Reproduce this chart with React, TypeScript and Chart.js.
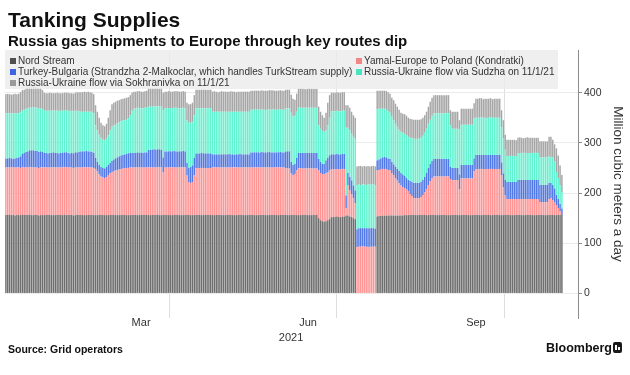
import React, { useEffect, useRef } from 'react';
import { Chart, registerables } from 'chart.js';

Chart.register(...registerables);

// Daily flows, 1 Jan 2021 .. 1 Nov 2021 (million cubic meters a day)
const NORD_STREAM = [
  156,156,157,156,156,155,156,156,156,157,
  156,156,156,157,156,156,156,156,155,156,
  156,156,156,156,156,156,156,156,156,156,
  156,156,157,156,156,156,156,155,156,156,
  156,156,156,156,156,156,156,156,156,156,
  156,156,156,156,156,156,156,156,156,156,
  156,156,156,156,156,156,156,156,156,156,
  156,156,156,156,156,156,156,156,156,156,
  156,156,156,157,156,156,156,156,156,156,
  156,156,156,156,156,156,156,156,156,156,
  156,156,156,156,156,156,156,156,156,156,
  156,156,156,156,156,156,156,156,156,156,
  156,156,156,156,156,156,156,156,156,
  156,156,156,156,156,156,156,156,156,156,
  156,156,156,156,156,156,156,156,156,
  156,156,156,156,156,156,156,156,156,156,
  156,156,156,156,156,156,156,156,156,156,
  156,156,156,150,146,144,143,144,146,148,
  152,152,152,153,152,152,153,153,155,155,
  153,152,150,148,0,0,0,0,0,0,
  0,0,0,0,0,153,154,154,155,155,
  155,155,155,155,155,155,155,155,155,155,
  156,156,156,156,156,156,156,156,156,156,
  156,156,156,156,156,156,156,156,156,156,
  156,156,156,156,156,156,156,156,156,156,
  156,156,156,156,156,156,156,156,156,156,
  156,156,156,156,156,156,156,156,156,156,
  156,156,156,156,156,156,156,156,156,156,
  156,156,156,156,156,156,156,156,156,156,
  156,156,156,156,156,156,156,156,156,156,
  156,156,156,156,156,156,156,
];

const YAMAL = [
  95,95,94,95,95,96,95,95,94,95,
  95,95,95,95,95,95,95,95,95,95,
  95,95,95,95,95,95,95,95,95,95,
  95,95,95,95,95,95,95,95,95,95,
  95,95,95,95,95,95,95,95,94,92,
  87,82,77,75,74,76,80,84,86,88,
  89,90,91,92,93,93,94,94,95,95,
  95,95,95,95,95,95,95,95,95,95,
  95,95,95,95,95,95,85,95,95,95,
  95,95,95,95,95,95,95,95,95,79,
  66,64,66,79,94,94,94,94,94,94,
  94,94,94,95,95,95,95,95,95,95,
  95,95,95,95,95,95,95,95,95,
  95,95,95,95,95,95,95,95,95,95,
  95,95,95,95,95,95,95,95,95,
  95,95,95,95,95,93,93,93,84,80,
  82,89,93,93,93,93,93,93,93,93,
  93,93,93,95,94,94,94,96,96,97,
  95,95,95,95,95,95,95,95,14,60,
  52,46,40,32,92,93,93,94,93,93,
  92,93,93,93,93,92,92,93,93,93,
  92,91,90,85,80,75,70,65,60,57,
  54,51,47,42,38,34,34,34,34,36,
  40,45,52,60,68,74,77,77,77,77,
  77,77,77,77,77,72,70,70,70,70,
  51,73,73,73,73,73,73,73,88,92,
  92,92,92,92,92,92,92,92,92,92,
  92,92,92,80,55,40,32,32,32,32,
  32,32,32,32,32,32,32,32,32,32,
  32,32,32,32,26,26,26,26,26,32,
  34,30,25,20,14,7,0,
];

const TURKEY_BULGARIA = [
  18,18,19,18,17,18,19,20,23,26,
  29,31,32,33,34,34,33,33,32,32,
  31,29,29,28,29,29,30,29,29,28,
  29,29,29,30,29,28,29,29,30,30,
  31,32,32,32,33,32,32,31,30,22,
  19,18,19,19,19,20,20,20,22,23,
  24,25,26,27,27,28,28,29,29,29,
  29,29,30,29,30,29,30,30,35,35,
  35,36,35,35,36,35,30,32,32,32,
  32,32,33,32,32,32,32,33,32,25,
  28,32,33,35,29,29,29,30,29,29,
  29,29,29,26,26,26,26,26,26,26,
  26,26,27,26,26,25,26,26,27,
  26,26,26,26,26,30,30,30,30,30,
  30,31,30,30,30,31,30,30,30,
  30,30,31,30,30,34,34,34,22,20,
  20,25,31,31,31,31,31,31,31,31,
  31,31,31,23,22,20,21,25,28,30,
  30,30,30,30,30,30,30,30,26,25,
  27,27,25,25,36,37,37,36,37,37,
  38,37,37,37,36,20,21,22,23,24,
  24,23,23,22,22,22,23,24,25,25,
  24,23,23,26,28,30,30,30,30,30,
  30,31,32,34,34,34,35,35,35,35,
  35,35,35,35,35,24,24,24,24,24,
  30,27,27,27,27,27,27,27,25,28,
  28,28,28,28,28,28,28,28,28,28,
  28,28,28,25,28,30,34,34,34,34,
  34,34,38,38,38,38,38,38,38,38,
  38,38,38,38,34,34,34,34,34,32,
  30,30,28,20,18,15,13,
];

const SUDZHA = [
  90,90,89,90,91,90,89,88,88,87,
  86,86,86,86,85,86,87,86,86,86,
  85,84,84,85,84,84,84,84,85,84,
  84,84,83,84,84,84,84,84,83,83,
  81,79,79,79,78,79,79,80,79,65,
  63,60,58,56,56,56,59,65,68,68,
  67,68,68,68,69,68,68,70,75,84,
  88,89,89,89,88,89,89,89,86,86,
  86,86,87,86,86,86,94,86,86,86,
  86,86,86,87,86,86,86,86,86,85,
  90,88,87,85,90,90,90,89,90,90,
  90,90,90,85,85,85,85,85,85,85,
  85,85,84,85,85,86,85,85,84,
  85,85,85,85,85,85,85,85,85,85,
  85,85,85,84,85,85,85,86,85,
  85,85,85,85,85,86,86,86,98,97,
  96,92,90,90,90,90,90,90,90,90,
  90,90,90,67,66,66,64,60,65,75,
  86,86,86,86,86,86,86,86,135,90,
  93,93,97,103,88,87,86,87,87,86,
  87,87,88,87,87,102,101,99,97,96,
  95,94,92,90,88,86,84,82,82,83,
  84,85,86,86,87,88,88,88,88,88,
  88,88,88,88,88,90,91,91,91,91,
  91,91,91,91,91,83,78,78,78,78,
  90,80,80,80,80,80,80,80,80,74,
  74,74,75,74,74,73,74,75,74,74,
  74,74,74,70,70,60,52,52,52,52,
  52,52,54,54,54,54,54,54,54,54,
  54,54,54,54,55,55,55,55,55,54,
  52,55,54,46,42,37,33,
];

const SOKHRANIVKA = [
  38,39,38,37,38,39,38,39,40,40,
  40,40,41,40,41,42,41,40,41,40,
  38,36,35,35,36,35,34,35,35,36,
  35,35,36,35,36,36,35,35,36,37,
  38,39,39,40,39,40,39,38,38,40,
  37,34,30,29,28,30,35,40,45,45,
  46,45,44,44,43,44,44,42,40,36,
  34,33,33,34,33,33,33,34,37,37,
  37,36,37,37,36,37,35,33,33,34,
  33,33,33,33,34,33,33,33,33,35,
  37,37,38,40,37,37,37,37,37,37,
  37,37,37,40,41,40,39,40,41,40,
  40,40,40,41,40,40,39,40,40,
  40,40,40,40,40,38,38,38,38,38,
  38,38,38,39,38,38,39,38,38,
  38,38,38,38,38,37,37,37,36,35,
  32,36,38,39,38,38,37,38,39,38,
  38,38,38,37,34,31,28,35,45,45,
  37,37,37,37,37,37,37,37,45,45,
  45,44,43,42,37,37,38,36,37,37,
  37,36,36,37,37,37,36,36,36,36,
  37,38,38,38,40,40,40,40,38,38,
  39,39,38,38,38,38,38,38,38,37,
  36,35,34,34,36,36,36,36,36,36,
  36,36,36,36,36,30,34,34,34,34,
  18,32,32,32,32,32,32,32,30,38,
  38,39,38,37,38,39,38,38,37,38,
  38,38,38,34,36,30,32,32,32,32,
  32,31,30,31,30,29,30,31,30,30,
  30,30,30,30,32,32,32,32,32,38,
  40,35,34,47,45,40,34,
];

const SERIES_NAMES = [
  'Nord Stream',
  'Yamal-Europe to Poland (Kondratki)',
  'Turkey-Bulgaria (Strandzha 2-Malkoclar, which handles TurkStream supply)',
  'Russia-Ukraine flow via Sudzha on 11/1/21',
  'Russia-Ukraine flow via Sokhranivka on 11/1/21',
];
const BAR_COLORS = ['#6e6e6e', '#ff9494', '#5278e4', '#62f2cf', '#a6a6a6'];
const LEGEND_COLORS = ['#4f4f4f', '#f48585', '#3d67e0', '#45e6bf', '#9a9a9a'];

// x positions in day index (0 = 1 Jan 2021)
const QUARTER_GRID_DAYS = [89.5, 180.5, 272.5]; // Apr 1, Jul 1, Oct 1
const MONTH_LABEL_DAYS = [73.9, 165.2, 257.0];
const MONTH_LABELS = ['Mar', 'Jun', 'Sep'];
const YEAR_LABEL_DAYS = [155.9];
const YEAR_LABELS = ['2021'];
const X_MIN = -0.5;
const X_MAX = 312.8;

const Y_TICKS = [0, 100, 200, 300, 400];
const Y_MIN = -49;
const Y_MAX = 485;
const Y_TITLE = 'Million cubic meters a day';

const TITLE = 'Tanking Supplies';
const SUBTITLE = 'Russia gas shipments to Europe through key routes dip';
const SOURCE = 'Source: Grid operators';

const FONT = '"Liberation Sans", Arial, Helvetica, sans-serif';

export default function App() {
  const canvasRef = useRef<HTMLCanvasElement | null>(null);

  useEffect(() => {
    const canvas = canvasRef.current;
    if (!canvas) return;
    const series = [NORD_STREAM, YAMAL, TURKEY_BULGARIA, SUDZHA, SOKHRANIVKA];
    const chart = new Chart(canvas, {
      type: 'bar',
      data: {
        datasets: series.map((arr, s) => ({
          label: SERIES_NAMES[s],
          data: arr.map((v, i) => ({ x: i, y: v })),
          backgroundColor: BAR_COLORS[s],
          borderWidth: 0,
          categoryPercentage: 1,
          barPercentage: 0.8,
          xAxisID: 'x',
          yAxisID: 'y',
        })),
      },
      options: {
        responsive: false,
        maintainAspectRatio: false,
        animation: false,
        events: [],
        layout: { padding: { left: 5, top: 50, right: 0, bottom: 27 } },
        plugins: { legend: { display: false }, tooltip: { enabled: false } },
        scales: {
          x: {
            type: 'linear',
            position: 'bottom',
            weight: 0,
            stacked: true,
            min: X_MIN,
            max: X_MAX,
            bounds: 'data',
            offset: false,
            afterBuildTicks: (scale: any) => {
              scale.ticks = [...QUARTER_GRID_DAYS, ...MONTH_LABEL_DAYS]
                .sort((a, b) => a - b)
                .map((v) => ({ value: v }));
            },
            afterFit: (scale: any) => {
              scale.height = 15;
            },
            grid: {
              offset: false,
              drawTicks: false,
              lineWidth: 1,
              color: (ctx: any) =>
                ctx.tick && QUARTER_GRID_DAYS.includes(ctx.tick.value) ? '#dedede' : 'rgba(0,0,0,0)',
            },
            border: { display: false },
            ticks: {
              autoSkip: false,
              maxRotation: 0,
              padding: -2,
              color: '#333',
              font: { family: FONT, size: 11 },
              callback: (value: any) => {
                const idx = MONTH_LABEL_DAYS.indexOf(Number(value));
                return idx >= 0 ? MONTH_LABELS[idx] : '';
              },
            },
          },
          x2: {
            type: 'linear',
            position: 'bottom',
            weight: 1,
            min: X_MIN,
            max: X_MAX,
            bounds: 'data',
            offset: false,
            afterBuildTicks: (scale: any) => {
              scale.ticks = YEAR_LABEL_DAYS.map((v) => ({ value: v }));
            },
            afterFit: (scale: any) => {
              scale.height = 15;
            },
            grid: { display: false, drawTicks: false },
            border: { display: false },
            ticks: {
              autoSkip: false,
              maxRotation: 0,
              padding: -2,
              color: '#333',
              font: { family: FONT, size: 11 },
              callback: (value: any) => {
                const idx = YEAR_LABEL_DAYS.indexOf(Number(value));
                return idx >= 0 ? YEAR_LABELS[idx] : '';
              },
            },
          },
          y: {
            type: 'linear',
            position: 'right',
            stacked: true,
            min: Y_MIN,
            max: Y_MAX,
            bounds: 'data',
            afterBuildTicks: (scale: any) => {
              scale.ticks = Y_TICKS.map((v) => ({ value: v }));
            },
            afterFit: (scale: any) => {
              scale.width = 52;
            },
            grid: {
              color: '#ebebeb',
              tickColor: '#8c8c8c',
              tickLength: 4,
              drawTicks: true,
            },
            border: { display: true, color: '#8c8c8c', width: 1 },
            ticks: {
              padding: 2,
              color: '#333',
              font: { family: FONT, size: 10.5 },
            },
            title: {
              display: true,
              text: Y_TITLE,
              color: '#333',
              font: { family: FONT, size: 13.5 },
              padding: { top: 4, bottom: 0 },
            },
          },
        },
      } as any,
    });
    return () => chart.destroy();
  }, []);

  const legendRows: [number, number, number][] = [
    [0, 0, 0],
    [1, 1, 0],
    [2, 0, 1],
    [3, 1, 1],
    [4, 0, 2],
  ];

  return (
    <div
      style={{
        position: 'fixed',
        left: 0,
        top: 0,
        width: 630,
        height: 375,
        background: '#ffffff',
        overflow: 'hidden',
        fontFamily: FONT,
      }}
    >
      <canvas
        ref={canvasRef}
        width={630}
        height={375}
        style={{ position: 'absolute', left: 0, top: 0, width: 630, height: 375, display: 'block' }}
      />
      <div
        style={{
          position: 'absolute',
          left: 8,
          top: 9,
          fontSize: 21,
          lineHeight: '21px',
          fontWeight: 700,
          color: '#111',
          whiteSpace: 'nowrap',
        }}
      >
        {TITLE}
      </div>
      <div
        style={{
          position: 'absolute',
          left: 8,
          top: 33,
          fontSize: 15,
          lineHeight: '15px',
          fontWeight: 700,
          color: '#111',
          whiteSpace: 'nowrap',
        }}
      >
        {SUBTITLE}
      </div>
      <div
        style={{
          position: 'absolute',
          left: 5,
          top: 50,
          width: 553,
          height: 39,
          background: 'rgba(236,236,236,0.82)',
        }}
      >
        {legendRows.map(([s, col, row]) => (
          <div
            key={s}
            style={{
              position: 'absolute',
              left: col === 0 ? 5 : 351,
              top: 5.5 + row * 11,
              height: 10,
              display: 'flex',
              alignItems: 'center',
              whiteSpace: 'nowrap',
              fontSize: 10,
              lineHeight: '10px',
              color: '#333',
            }}
          >
            <span
              style={{
                display: 'inline-block',
                width: 6,
                height: 6,
                background: LEGEND_COLORS[s],
                marginRight: 2,
              }}
            />
            <span>{SERIES_NAMES[s]}</span>
          </div>
        ))}
      </div>
      <div
        style={{
          position: 'absolute',
          left: 8,
          top: 344,
          fontSize: 10.5,
          lineHeight: '10.5px',
          fontWeight: 700,
          color: '#111',
          whiteSpace: 'nowrap',
        }}
      >
        {SOURCE}
      </div>
      <div
        style={{
          position: 'absolute',
          left: 546,
          top: 342,
          fontSize: 12.5,
          lineHeight: '12.5px',
          fontWeight: 700,
          color: '#111',
          whiteSpace: 'nowrap',
        }}
      >
        Bloomberg
      </div>
      <div
        style={{
          position: 'absolute',
          left: 613,
          top: 342,
          width: 9,
          height: 11,
          borderRadius: 2,
          background: '#1a1a1a',
        }}
      >
        <div style={{ position: 'absolute', left: 2, top: 3, width: 2, height: 5, background: '#fff' }} />
        <div style={{ position: 'absolute', left: 5, top: 5, width: 2, height: 3, background: '#fff' }} />
      </div>
    </div>
  );
}
